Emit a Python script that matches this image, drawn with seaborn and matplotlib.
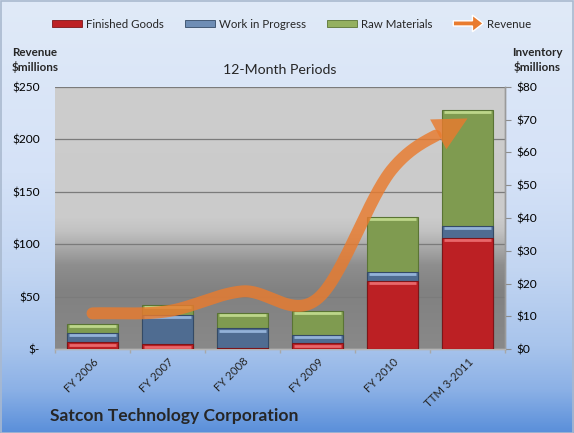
import numpy as np
import pandas as pd
import matplotlib
matplotlib.use("Agg")
import matplotlib.pyplot as plt
import seaborn as sns
from matplotlib.patches import FancyArrow, Rectangle, Polygon, Patch
from matplotlib.legend_handler import HandlerPatch
from matplotlib.colors import LinearSegmentedColormap
from matplotlib.transforms import offset_copy

# ---------------- data ----------------
categories = ["FY 2006", "FY 2007", "FY 2008", "FY 2009", "FY 2010", "TTM 3-2011"]
finished_goods = [2.0, 1.4, 0.2, 1.7, 20.9, 34.0]
work_in_progress = [2.8, 9.0, 6.1, 2.7, 2.7, 3.7]
raw_materials = [2.9, 3.0, 4.8, 7.3, 16.8, 35.3]
revenue = [34, 36, 55, 48, 172, 220]
revenue_ticks = [0, 50, 100, 150, 200, 250]
inventory_ticks = [0, 10, 20, 30, 40, 50, 60, 70, 80]
legend_labels = ["Finished Goods", "Work in Progress", "Raw Materials", "Revenue"]

# ---------------- style ----------------
sns.set_theme(style="white")
plt.rcParams["font.family"] = ["Lato", "DejaVu Sans"]

RED, RED_E, RED_H = "#BC2024", "#7E1518", "#E8676A"
BLUE, BLUE_E, BLUE_H = "#4F6C91", "#344A66", "#93B2D8"
GREEN, GREEN_E, GREEN_H = "#7F9B50", "#5A7434", "#BDD68A"
ORANGE = "#E97B2E"

W, H = 574, 433
fig = plt.figure(figsize=(W / 100, H / 100), dpi=100)

# figure gradient background
bg = fig.add_axes([0, 0, 1, 1], zorder=-10)
bg_cmap = LinearSegmentedColormap.from_list(
    "bg", [(0, "#E0EAF8"), (0.40, "#D5E2F7"), (0.62, "#C3D6F2"),
           (0.80, "#A8C4EC"), (0.90, "#8CB1E6"), (1.0, "#5A8FDA")])
bg.imshow(np.linspace(0, 1, 256).reshape(-1, 1), aspect="auto", cmap=bg_cmap,
          extent=[0, 1, 0, 1], origin="upper")
bg.set_axis_off()
fig.add_artist(Rectangle((0.001, 0.001), 0.997, 0.996, transform=fig.transFigure,
                         fill=False, edgecolor="#A9B9CF", lw=1.2, zorder=20))

# plot area
L, R, T, B = 55, 505, 87, 349
ax = fig.add_axes([L / W, 1 - B / H, (R - L) / W, (B - T) / H])
plot_cmap = LinearSegmentedColormap.from_list(
    "pa", [(0, "#898989"), (0.22, "#818181"), (0.32, "#8E8E8E"),
           (0.45, "#C2C2C2"), (0.50, "#CBCBCB"), (1.0, "#CDCDCD")])
ax.imshow(np.linspace(0, 1, 256).reshape(-1, 1), aspect="auto", cmap=plot_cmap,
          extent=[0, 1, 0, 1], origin="lower", transform=ax.transAxes, zorder=0)
ax.patch.set_visible(False)

ax2 = ax.twinx()

# ---------------- stacked inventory bars (right axis) ----------------
df = pd.DataFrame({"period": categories, "fg": finished_goods,
                   "wip": work_in_progress, "rm": raw_materials})
df["fg_wip"] = df["fg"] + df["wip"]
df["total"] = df["fg_wip"] + df["rm"]

layers = [("total", GREEN, GREEN_E, GREEN_H),
          ("fg_wip", BLUE, BLUE_E, BLUE_H),
          ("fg", RED, RED_E, RED_H)]
hl_trans = offset_copy(ax2.transData, fig=fig, y=-2.2, units="dots")
ax2.set_ylim(0, 80)
for col, face, edge, hi in layers:
    n0 = len(ax2.patches)
    sns.barplot(data=df, x="period", y=col, order=categories, color=face,
                saturation=1, edgecolor=edge, linewidth=0.8, width=0.667,
                errorbar=None, ax=ax2, zorder=3)
    for p in ax2.patches[n0:]:
        top = p.get_y() + p.get_height()
        if p.get_height() * (B - T) / 80 > 4:
            x0, w = p.get_x(), p.get_width()
            ax2.plot([x0 + 0.03 * w, x0 + 0.97 * w], [top, top], color=hi,
                     lw=2.0, solid_capstyle="butt", transform=hl_trans, zorder=4)

ax2.set_xlabel("")
ax2.set_ylabel("")
ax.set_xlim(-0.5, len(categories) - 0.5)
ax.set_ylim(0, 250)
ax2.set_ylim(0, 80)

# ---------------- revenue smooth arrow (left axis) ----------------
xs = np.arange(len(revenue), dtype=float)
P = ax.transData.transform(np.column_stack([xs, np.asarray(revenue, float)]))
m = len(P)
Tg = np.zeros_like(P)
for i in range(m):
    if i == 0:
        Tg[i] = P[1] - P[0]
    elif i == m - 1:
        Tg[i] = P[-1] - P[-2]
    else:
        Tg[i] = (P[i + 1] - P[i - 1]) / 2
segs = []
for i in range(m - 1):
    t = np.linspace(0, 1, 60, endpoint=(i == m - 2))[:, None]
    h00 = 2 * t**3 - 3 * t**2 + 1
    h10 = t**3 - 2 * t**2 + t
    h01 = -2 * t**3 + 3 * t**2
    h11 = t**3 - t**2
    segs.append(h00 * P[i] + h10 * Tg[i] + h01 * P[i + 1] + h11 * Tg[i + 1])
curve = np.vstack(segs)
seglen = np.hypot(*np.diff(curve, axis=0).T)
dist_from_end = np.concatenate([np.cumsum(seglen[::-1])[::-1], [0]])
HL, HW = 34.0, 17.0
k = np.argmax(dist_from_end < HL)
base = curve[k]
tip = curve[-1]
d = (tip - base) / np.hypot(*(tip - base))
nrm = np.array([-d[1], d[0]])
line_pts = curve[: max(k - 1, 2)]
inv = ax.transData.inverted()
lp = inv.transform(line_pts)
ax2.plot(lp[:, 0], lp[:, 1], transform=ax.transData, color=ORANGE, alpha=0.82,
         lw=8.6, solid_capstyle="round", zorder=6)
head = np.array([tip, base + nrm * HW, base - nrm * HW])
ax2.add_patch(Polygon(inv.transform(head), closed=True, transform=ax.transData,
                      facecolor=ORANGE, edgecolor="none", alpha=0.82, zorder=6))

# ---------------- axes styling ----------------
ax.set_yticks(revenue_ticks)
ax.set_yticklabels([f"${v}" if v else "$-" for v in revenue_ticks])
ax.yaxis.grid(True, color="#7B7B7B", lw=0.9)
ax.tick_params(axis="y", length=0, pad=11, labelsize=8.6, labelcolor="black")
ax2.set_yticks(inventory_ticks)
ax2.set_yticklabels([f"${v}" for v in inventory_ticks])
ax2.tick_params(axis="y", length=4, width=0.8, color="#8C8C8C", pad=4,
                labelsize=8.6, labelcolor="black")
ax.set_xticks(range(len(categories)))
ax.set_xticklabels(categories, rotation=45, ha="right", rotation_mode="anchor")
ax.set_xticks(np.arange(len(categories) + 1) - 0.5, minor=True)
ax.tick_params(axis="x", which="major", length=0, pad=5, labelsize=8.2)
ax.tick_params(axis="x", which="minor", length=3, color="#A8A8A8", bottom=True)
for a in (ax, ax2):
    for s in ("top", "left"):
        a.spines[s].set_visible(False)
    a.spines["bottom"].set_color("#B5B5B5")
    a.spines["right"].set_color("#9A9A9A")
    a.spines["bottom"].set_linewidth(1.0)
    a.spines["right"].set_linewidth(1.0)

# ---------------- texts & legend ----------------
fig.text(35 / W, 1 - 60 / H, "Revenue\n$millions", ha="center", va="center",
         fontsize=8.4, fontweight="bold", linespacing=1.35)
fig.text(537 / W, 1 - 60 / H, "Inventory\n$millions", ha="center", va="center",
         fontsize=8.4, fontweight="bold", linespacing=1.35)
fig.text(280 / W, 1 - 70 / H, "12-Month Periods", ha="center", va="center",
         fontsize=10.2)
fig.text(50 / W, 1 - 416 / H, "Satcon Technology Corporation", ha="left",
         va="center", fontsize=12.6, fontweight="bold")


def make_arrow(legend, orig_handle, xdescent, ydescent, width, height, fontsize):
    return FancyArrow(-xdescent, -ydescent + height / 2, width, 0,
                      width=height * 0.75, head_width=height * 2.4,
                      head_length=width * 0.36, length_includes_head=True,
                      color="#F0893E", alpha=0.9, lw=0)


handles = [Patch(facecolor=RED, edgecolor=RED_E, lw=0.6),
           Patch(facecolor="#6E8DB5", edgecolor=BLUE_E, lw=0.6),
           Patch(facecolor="#94B060", edgecolor=GREEN_E, lw=0.6),
           Patch(facecolor=ORANGE)]
fig.legend(handles, legend_labels, loc="center",
           bbox_to_anchor=(292 / W, 1 - 24 / H), ncol=4, frameon=False,
           fontsize=8.3, handlelength=2.6, handleheight=0.55,
           handletextpad=0.35, columnspacing=1.8,
           handler_map={handles[3]: HandlerPatch(patch_func=make_arrow)})

fig.savefig("out.png", dpi=100)
